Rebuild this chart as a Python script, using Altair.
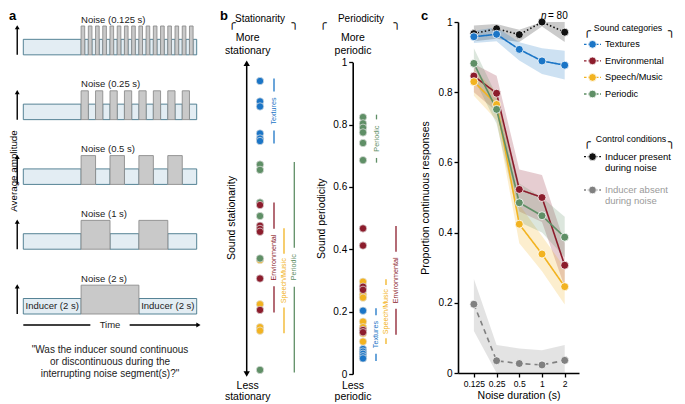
import altair as alt
import pandas as pd

FONT = "Liberation Sans"
W, H = 669, 394


def C(v):
    """page pixel -> chart pixel (the page has an 8px margin)"""
    return v - 8


# ============================ DATA ============================
# ---- panel a (schematic) ----
noise_durations = [0.125, 0.25, 0.5, 1, 2]
noise_labels = ["Noise (0.125 s)", "Noise (0.25 s)", "Noise (0.5 s)", "Noise (1 s)", "Noise (2 s)"]
inducer_labels = ["Inducer (2 s)", "Inducer (2 s)"]
question_lines = ['"Was the inducer sound continuous', "or discontinuous during the",
                  'interrupting noise segment(s)?"']

# ---- panel b ----
categories = ["Textures", "Environmental", "Speech/Music", "Periodic"]
stat_textures = [0.933, 0.868, 0.852, 0.766, 0.750, 0.742]
stat_environmental = [0.538, 0.472, 0.462, 0.453, 0.304, 0.204]
stat_speech_music = [0.456, 0.363, 0.222, 0.149, 0.138]
stat_periodic = [0.667, 0.650, 0.546, 0.503, 0.368, 0.013]
per_textures = [0.203, 0.080, 0.072, 0.065, 0.057, 0.050]
per_environmental = [0.467, 0.412, 0.280, 0.270, 0.141, 0.134]
per_speech_music = [0.296, 0.255, 0.245, 0.168, 0.150, 0.140, 0.130, 0.104]
per_periodic = [0.824, 0.804, 0.790, 0.775, 0.741, 0.686]

# ---- panel c ----
durations = [0.125, 0.25, 0.5, 1, 2]
present_mean = [0.967, 0.981, 0.964, 1.000, 0.971]
present_lo = [0.945, 0.952, 0.943, 0.987, 0.943]
present_hi = [0.990, 0.994, 0.978, 1.000, 1.000]
textures_mean = [0.958, 0.965, 0.922, 0.889, 0.877]
textures_lo = [0.940, 0.945, 0.890, 0.852, 0.836]
textures_hi = [0.975, 0.985, 0.942, 0.925, 0.918]
environmental_mean = [0.846, 0.797, 0.523, 0.500, 0.307]
environmental_lo = [0.800, 0.745, 0.460, 0.430, 0.245]
environmental_hi = [0.880, 0.847, 0.580, 0.564, 0.370]
speech_mean = [0.830, 0.765, 0.424, 0.339, 0.246]
speech_lo = [0.790, 0.720, 0.370, 0.290, 0.195]
speech_hi = [0.865, 0.800, 0.480, 0.390, 0.300]
periodic_mean = [0.882, 0.751, 0.485, 0.448, 0.387]
periodic_lo = [0.840, 0.710, 0.430, 0.400, 0.330]
periodic_hi = [0.925, 0.790, 0.540, 0.500, 0.445]
absent_mean = [0.196, 0.035, 0.027, 0.023, 0.036]
absent_lo = [0.120, 0.000, 0.000, 0.000, 0.000]
absent_hi = [0.268, 0.080, 0.070, 0.065, 0.080]

series_domain = ["Textures", "Environmental", "Speech/Music", "Periodic", "Inducer present", "Inducer absent"]
series_colors = ["#1b75c6", "#8c1c2c", "#f2b321", "#5f8f66", "#111111", "#808080"]
series_dash = [[1, 0], [1, 0], [1, 0], [1, 0], [1.5, 2.2], [5, 4]]
color_scale = alt.Scale(domain=series_domain, range=series_colors)
dash_scale = alt.Scale(domain=series_domain, range=series_dash)


def annot(text, x, y, size=10, align="center", baseline="middle", angle=None, color="black",
          weight="normal", style=None, font=FONT):
    kw = dict(align=align, baseline=baseline, fontSize=size, color=color, fontWeight=weight, font=font)
    if angle is not None:
        kw["angle"] = angle
    if style:
        kw["fontStyle"] = style
    return alt.Chart(pd.DataFrame({"label": [text]})).mark_text(**kw).encode(
        text="label:N", x=alt.value(C(x)), y=alt.value(C(y)))


# ============================ PANEL A ============================
ROW_GAP, NOISE_H, TOTAL_T = 4.18, 1.86, 6.0
ind_rows, noise_rows, arrow_rows, nlabel_rows = [], [], [], []
n_rows = len(noise_durations)
for r, (d, lab) in enumerate(zip(noise_durations, noise_labels)):
    base = (n_rows - 1 - r) * ROW_GAP
    ind_rows.append({"t0": 0.0, "t1": 2.0, "y0": base, "y1": base + 1})
    t = 2.0
    while t < TOTAL_T - 1e-9:
        noise_rows.append({"t0": t, "t1": t + d, "y0": base, "y1": base + NOISE_H})
        ind_rows.append({"t0": t + d, "t1": min(t + 2 * d, TOTAL_T), "y0": base, "y1": base + 1})
        t += 2 * d
    arrow_rows.append({"t": -0.21, "yb": base, "yt": base + 1.78})
    nlabel_rows.append({"t": 2.0, "y": base + NOISE_H, "label": lab})

ind_df = pd.DataFrame(ind_rows)
noise_df = pd.DataFrame(noise_rows)
arrow_df = pd.DataFrame(arrow_rows)
nlabel_df = pd.DataFrame(nlabel_rows)
ilabel_df = pd.DataFrame({"t": [1.0, 5.0], "y": [0.5, 0.5], "label": inducer_labels})
time_df = pd.DataFrame({"t0": [0.0, 3.68], "t1": [2.32, 6.02], "y": [-0.71, -0.71]})
time_head = pd.DataFrame({"t": [6.06], "y": [-0.71]})
time_lab = pd.DataFrame({"t": [3.0], "y": [-0.71], "label": ["Time"]})

xa_s = alt.Scale(domain=[0, 6], range=[C(23.3), C(196.7)], nice=False, zero=False)
ya_s = alt.Scale(domain=[0, 10], range=[C(314), C(314) - 155], nice=False, zero=False)


def XA(f):
    return alt.X(f, type="quantitative", scale=xa_s, axis=None)


def YA(f):
    return alt.Y(f, type="quantitative", scale=ya_s, axis=None)


panel_a = alt.layer(
    alt.Chart(ind_df).mark_rect(fill="#e3edf3", stroke="#44768a", strokeWidth=0.9).encode(
        x=XA("t0"), x2="t1", y=YA("y0"), y2="y1"),
    alt.Chart(noise_df).mark_rect(fill="#c9c9c9", stroke="#8d8d8d", strokeWidth=0.9).encode(
        x=XA("t0"), x2="t1", y=YA("y0"), y2="y1"),
    alt.Chart(arrow_df).mark_rule(color="black", strokeWidth=1.4).encode(x=XA("t"), y=YA("yb"), y2="yt"),
    alt.Chart(arrow_df).mark_point(shape="triangle-up", filled=True, size=24, color="black", opacity=1).encode(
        x=XA("t"), y=YA("yt")),
    alt.Chart(time_df).mark_rule(color="black", strokeWidth=1.3).encode(x=XA("t0"), x2="t1", y=YA("y")),
    alt.Chart(time_head).mark_point(shape="triangle-right", filled=True, size=24, color="black", opacity=1).encode(
        x=XA("t"), y=YA("y")),
    alt.Chart(time_lab).mark_text(fontSize=9.5, font=FONT, color="#222").encode(
        x=XA("t"), y=YA("y"), text="label:N"),
    alt.Chart(nlabel_df).mark_text(align="left", baseline="bottom", dy=-1.5, fontSize=9.5, font=FONT,
                                   color="#222").encode(x=XA("t"), y=YA("y"), text="label:N"),
    alt.Chart(ilabel_df).mark_text(fontSize=9.5, font=FONT, color="#222").encode(
        x=XA("t"), y=YA("y"), text="label:N"),
)


# ============================ PANEL B ============================
draw_order = ["Speech/Music", "Periodic", "Environmental", "Textures"]


def panel_b(lists, lanes, x_page, y_top_page, y_bot_page, axis, arrow_lane=None):
    pts = pd.DataFrame([{"cat": c, "v": v, "lane": 0.0}
                        for c in draw_order for v in lists[categories.index(c)]])
    rows = []
    for c, vals, lane in zip(categories, lists, lanes):
        lo, hi = min(vals) - 0.008, max(vals) + 0.008
        mid = (lo + hi) / 2
        half = (len(c) * 3.7 + 9) / 2 / 312
        rows.append({"cat": c, "lane": lane, "lo": lo, "hi": hi, "mid": mid, "a": mid - half, "b": mid + half})
    bars = pd.DataFrame(rows)
    xs = alt.Scale(domain=[0, 10], range=[C(x_page), C(x_page) + 100], nice=False, zero=False)
    ys = alt.Scale(domain=[0, 1], range=[C(y_bot_page), C(y_top_page)], nice=False, zero=False)
    X = lambda f: alt.X(f, type="quantitative", scale=xs, axis=None)
    Y = lambda f: alt.Y(f, type="quantitative", scale=ys, axis=axis)
    col = alt.Color("cat:N", scale=color_scale, legend=None)
    layers = [
        alt.Chart(bars).mark_rule(strokeWidth=1.3).encode(x=X("lane"), y=Y("lo"), y2="a", color=col),
        alt.Chart(bars).mark_rule(strokeWidth=1.3).encode(x=X("lane"), y=Y("b"), y2="hi", color=col),
        alt.Chart(bars).mark_text(angle=270, fontSize=7.2, font=FONT).encode(
            x=X("lane"), y=Y("mid"), text="cat:N", color=col),
        alt.Chart(pts).mark_circle(size=55, opacity=1, stroke="#e4e4e4", strokeWidth=0.7).encode(
            x=X("lane"), y=Y("v"), color=col),
    ]
    if arrow_lane is not None:
        arr = pd.DataFrame({"lane": [arrow_lane], "y0": [0.0], "y1": [0.99]})
        layers += [
            alt.Chart(arr).mark_rule(color="black", strokeWidth=1.5).encode(x=X("lane"), y=Y("y0"), y2="y1"),
            alt.Chart(arr).mark_point(shape="triangle-up", filled=True, size=40, color="black", opacity=1).encode(
                x=X("lane"), y=Y("y1")),
            alt.Chart(arr).mark_point(shape="triangle-down", filled=True, size=40, color="black", opacity=1).encode(
                x=X("lane"), y=Y("y0")),
        ]
    return alt.layer(*layers)


stat_lists = [stat_textures, stat_environmental, stat_speech_music, stat_periodic]
per_lists = [per_textures, per_environmental, per_speech_music, per_periodic]
panel_b1 = panel_b(stat_lists, [1.4, 1.4, 2.4, 3.43], 260, 60, 374, None, arrow_lane=-1.33)
per_axis = alt.Axis(orient="left", offset=-C(352.7), values=[0, 0.2, 0.4, 0.6, 0.8, 1], format="~g",
                    title="Sound periodicity", titlePadding=6)
panel_b2 = panel_b(per_lists, [1.3, 3.3, 2.3, 1.35], 363, 62.3, 374, per_axis)

# ============================ PANEL C ============================
c_rows = []
c_series = [
    ("Inducer absent", absent_mean, absent_lo, absent_hi),
    ("Inducer present", present_mean, present_lo, present_hi),
    ("Environmental", environmental_mean, environmental_lo, environmental_hi),
    ("Speech/Music", speech_mean, speech_lo, speech_hi),
    ("Periodic", periodic_mean, periodic_lo, periodic_hi),
    ("Textures", textures_mean, textures_lo, textures_hi),
]
for name, m, lo, hi in c_series:
    for d, a, b, c in zip(durations, m, lo, hi):
        c_rows.append({"series": name, "dur": d, "mean": a, "lo": b, "hi": c})
c_df = pd.DataFrame(c_rows)

xc_s = alt.Scale(type="log", base=2, domain=[2 ** -3.7, 2 ** 1.63], range=[C(458), C(579)], nice=False)
yc_s = alt.Scale(domain=[0, 1], range=[C(373), C(22)], nice=False, zero=False)
xc_ax = alt.Axis(orient="bottom", offset=-(H - C(373)), values=durations, format="~g",
                 title="Noise duration (s)", titlePadding=3, labelFontSize=8.6)
yc_ax = alt.Axis(orient="left", offset=-C(458), values=[0, 0.2, 0.4, 0.6, 0.8, 1], format="~g",
                 title="Proportion continuous responses", titlePadding=8)
XC = alt.X("dur:Q", scale=xc_s, axis=xc_ax)
colc = alt.Color("series:N", scale=color_scale, legend=None)

panel_c = alt.layer(
    alt.Chart(c_df).mark_area(opacity=0.22).encode(
        x=XC, y=alt.Y("lo:Q", scale=yc_s, axis=yc_ax), y2="hi", color=colc),
    alt.Chart(c_df).mark_line(strokeWidth=1.6).encode(
        x=XC, y=alt.Y("mean:Q", scale=yc_s, axis=yc_ax), color=colc,
        strokeDash=alt.StrokeDash("series:N", scale=dash_scale, legend=None)),
    alt.Chart(c_df).mark_circle(size=64, opacity=1, stroke="white", strokeWidth=0.8).encode(
        x=XC, y=alt.Y("mean:Q", scale=yc_s, axis=yc_ax), color=colc),
)

# legend: sound categories
leg1 = pd.DataFrame({"series": categories, "i": list(range(len(categories)))})
y_l1 = alt.Y("i:Q", scale=alt.Scale(domain=[0, 3], range=[C(44.3), C(94)], nice=False, zero=False), axis=None)
legend1 = alt.layer(
    alt.Chart(leg1).mark_rule(strokeWidth=1.3, strokeDash=[2.5, 1.5]).encode(
        x=alt.value(C(584)), x2=alt.value(C(601)), y=y_l1, color=colc),
    alt.Chart(leg1).mark_circle(size=60, opacity=1, stroke="white", strokeWidth=0.8).encode(
        x=alt.value(C(592.5)), y=y_l1, color=colc),
    alt.Chart(leg1).mark_text(align="left", fontSize=9.2, font=FONT, color="black").encode(
        x=alt.value(C(605)), y=y_l1, text="series:N"),
)

ctrl_series = ["Inducer present", "Inducer absent"]
ctrl_line1 = ["Inducer present", "Inducer absent"]
ctrl_line2 = ["during noise", "during noise"]
leg2 = pd.DataFrame({"series": ctrl_series, "l1": ctrl_line1, "l2": ctrl_line2, "i": [0, 1]})
y_l2 = alt.Y("i:Q", scale=alt.Scale(domain=[0, 1], range=[C(156.7), C(190)], nice=False, zero=False), axis=None)
legend2 = alt.layer(
    alt.Chart(leg2).mark_rule(strokeWidth=1.3, strokeDash=[2, 1.8]).encode(
        x=alt.value(C(584)), x2=alt.value(C(601)), y=y_l2, color=colc),
    alt.Chart(leg2).mark_circle(size=60, opacity=1, stroke="white", strokeWidth=0.8).encode(
        x=alt.value(C(592.5)), y=y_l2, color=colc),
    alt.Chart(leg2).transform_filter(alt.datum.i == 0).mark_text(
        align="left", fontSize=9.5, font=FONT, color="black").encode(x=alt.value(C(605)), y=y_l2, text="l1:N"),
    alt.Chart(leg2).transform_filter(alt.datum.i == 0).mark_text(
        align="left", fontSize=9.5, font=FONT, color="black", dy=11).encode(x=alt.value(C(605)), y=y_l2,
                                                                            text="l2:N"),
    alt.Chart(leg2).transform_filter(alt.datum.i == 1).mark_text(
        align="left", fontSize=9.5, font=FONT, color="#9a9a9a").encode(x=alt.value(C(605)), y=y_l2, text="l1:N"),
    alt.Chart(leg2).transform_filter(alt.datum.i == 1).mark_text(
        align="left", fontSize=9.5, font=FONT, color="#9a9a9a", dy=11).encode(x=alt.value(C(605)), y=y_l2,
                                                                              text="l2:N"),
)

# ============================ ANNOTATIONS ============================
BR = "DejaVu Sans"
annots = [
    annot("a", 9, 15.5, size=13, align="left", weight="bold"),
    annot("b", 220, 15.5, size=13, align="left", weight="bold"),
    annot("c", 421, 15.5, size=13, align="left", weight="bold"),
    annot("Average amplitude", 13.5, 171, size=9.8, angle=270),
    annot("Stationarity", 260, 19, size=10),
    annot("╭", 232, 23, size=12, font=BR, weight="bold"), annot("╮", 295, 23, size=12, font=BR, weight="bold"),
    annot("Periodicity", 361, 19, size=10),
    annot("╭", 323, 23, size=12, font=BR, weight="bold"), annot("╮", 397, 23, size=12, font=BR, weight="bold"),
    annot("More", 247.7, 38, size=10.5), annot("stationary", 247.7, 51, size=10.5),
    annot("Less", 247.7, 386, size=10.5), annot("stationary", 247.7, 397, size=10.5),
    annot("More", 353, 38, size=10.5), annot("periodic", 353, 51, size=10.5),
    annot("Less", 353, 386, size=10.5), annot("periodic", 353, 397, size=10.5),
    annot("Sound stationarity", 232, 218, size=10.5, angle=270),
    annot("n", 541, 15.5, size=10, align="left", style="italic"),
    annot("= 80", 548, 15.5, size=10, align="left"),
    annot("Sound categories", 628, 28, size=8.8),
    annot("╭", 587, 31, size=12, font=BR, weight="bold"), annot("╮", 671.5, 31, size=12, font=BR, weight="bold"),
    annot("Control conditions", 631, 139, size=8.8),
    annot("╭", 587, 142, size=12, font=BR, weight="bold"), annot("╮", 671.5, 142, size=12, font=BR, weight="bold"),
]
for k, line in enumerate(question_lines):
    annots.append(annot(line, 110, 350 + 12 * k, size=10, color="#222"))

chart = alt.layer(
    panel_a, panel_b1, panel_b2, panel_c, legend1, legend2, *annots
).resolve_scale(
    x="independent", y="independent"
).properties(
    width=W, height=H, padding=0, autosize=alt.AutoSizeParams(type="none")
).configure_view(
    stroke=None
).configure_axis(
    grid=False, domainColor="black", domainWidth=1.6, tickColor="black", tickWidth=1.3, tickSize=4,
    labelColor="black", labelFont=FONT, labelFontSize=10, labelPadding=2,
    titleFont=FONT, titleFontSize=10.5, titleFontWeight="normal", titleColor="black"
).configure_text(font=FONT)

chart.save("out.html", embed_options={"renderer": "svg", "actions": False})
